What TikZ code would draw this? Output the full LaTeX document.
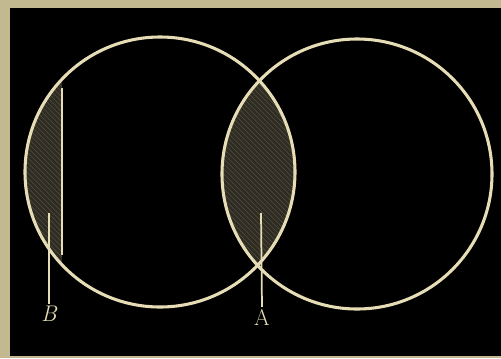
\documentclass[tikz,border=0pt]{standalone}
\begin{document}
\begin{tikzpicture}[x=0.75pt,y=-0.75pt,
  ring/.style={draw=cream,line width=2.3pt},
  leader/.style={draw=cream,line width=1.3pt},
  lbl/.style={text=cream,font=\fontsize{17}{17}\selectfont,inner sep=0pt},
  shade/.style={fill=black!76!paper},
  hatchline/.style={draw=black!58!paper,line width=0.45pt}]
\definecolor{cream}{HTML}{E6DDB6}
\definecolor{paper}{HTML}{C2B991}
\useasboundingbox (0,0) rectangle (501,358);
\fill[paper] (0,0) rectangle (501,358);
\fill[black] (10,8) rectangle (501,356);
\coordinate (L) at (160,172);
\coordinate (R) at (357,174);
% lens
\begin{scope}
  \clip (L) circle (135);
  \clip (R) circle (135);
  \fill[shade] (200,60) rectangle (320,290);
  \foreach \k in {-300,-295,...,300}
    \draw[hatchline] (200,60+\k) -- (320,180+\k);
\end{scope}
% segment B
\begin{scope}
  \clip (L) circle (135);
  \clip (10,60) rectangle (62,290);
  \fill[shade] (10,60) rectangle (62,290);
  \foreach \k in {-300,-295,...,300}
    \draw[hatchline] (10,60+\k) -- (70,120+\k);
\end{scope}
\draw[ring] (L) circle (135);
\draw[ring] (R) circle (135);
\coordinate (chordtop) at (62,88);
\coordinate (chordbot) at (62,255);
\draw[leader] (chordtop) -- (chordbot);
\node[lbl,anchor=north] (B) at (49,306) {\itshape B};
\node[lbl,anchor=north] (A) at (262,309) {A};
\coordinate (Bstart) at (49,213);
\coordinate (Astart) at (261,213);
\draw[leader] (Bstart) -- ([yshift=1.5pt]B.north);
\draw[leader] (Astart) -- ([yshift=1.5pt]A.north);
\end{tikzpicture}
\end{document}
